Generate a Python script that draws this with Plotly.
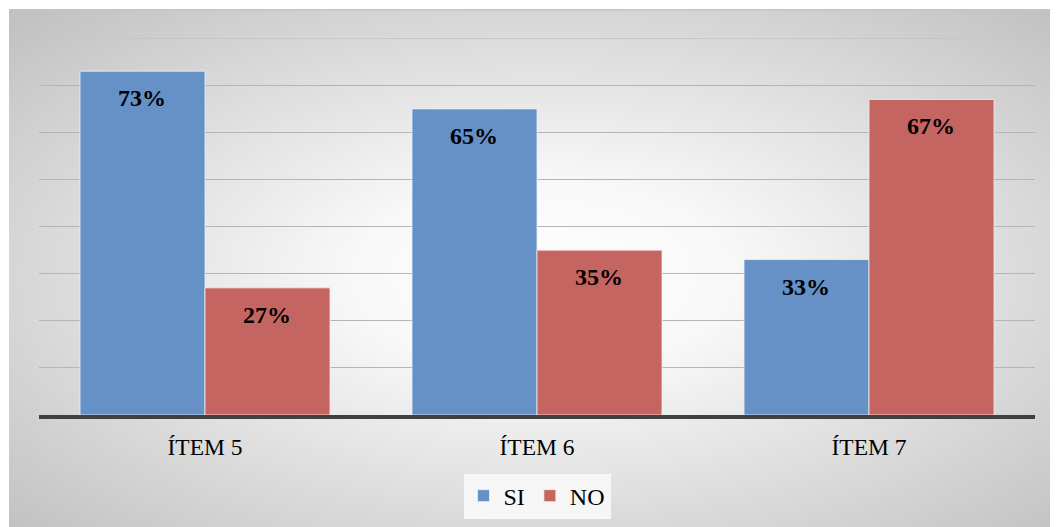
import base64
import plotly.graph_objects as go

categories = ["ÍTEM 5", "ÍTEM 6", "ÍTEM 7"]
si_values = [73, 65, 33]
no_values = [27, 35, 67]
series_names = ["SI", "NO"]
grid_top = 0.8

W, H = 1058, 527
OFF = 8  # page body margin
L, R, T, B = 39 - OFF, 1035 - OFF, 38 - OFF, 415 - OFF
FONT = "Liberation Serif"

svg = (
    '<svg xmlns="http://www.w3.org/2000/svg" width="1049" height="518" '
    'viewBox="0 0 1049 518" preserveAspectRatio="none">'
    '<defs><radialGradient id="g" cx="50%" cy="50%" r="71%">'
    '<stop offset="0" stop-color="#ffffff"/>'
    '<stop offset="0.25" stop-color="#f8f8f8"/>'
    '<stop offset="1" stop-color="#bfbfbf"/>'
    '</radialGradient></defs>'
    '<rect x="0" y="0" width="1049" height="518" fill="url(#g)"/>'
    '<rect x="0" y="0" width="1049" height="1.5" fill="#c4c4c4"/>'
    '</svg>'
)
src = "data:image/svg+xml;base64," + base64.b64encode(svg.encode()).decode()

fig = go.Figure()
fig.add_trace(go.Bar(
    name=series_names[0], x=categories, y=[v / 100 for v in si_values],
    marker=dict(color="#6591C6", line=dict(color="rgba(235,240,250,0.8)", width=1)),
))
fig.add_trace(go.Bar(
    name=series_names[1], x=categories, y=[v / 100 for v in no_values],
    marker=dict(color="#C56562", line=dict(color="rgba(250,235,235,0.8)", width=1)),
))

for cat, s, n in zip(categories, si_values, no_values):
    for val, xs in ((s, -63), (n, 62)):
        fig.add_annotation(
            x=cat, y=val / 100, xref="x", yref="y", text=f"<b>{val}%</b>",
            showarrow=False, xshift=xs, yshift=-27, yanchor="middle",
            font=dict(family=FONT, size=24, color="#000000"),
        )

fig.add_shape(type="line", xref="paper", yref="y", x0=0, x1=1, y0=grid_top, y1=grid_top,
              line=dict(color="#c2c2c2", width=1), layer="below")

plot_w = R - L
plot_h = B - T
fig.add_layout_image(
    source=src, xref="paper", yref="paper",
    x=(1 - L) / plot_w, y=(B - 1) / plot_h,
    sizex=(W + 10) / plot_w, sizey=(H + 10) / plot_h,
    xanchor="left", yanchor="top", sizing="stretch", layer="below",
)

fig.update_layout(
    width=W, height=H,
    margin=dict(l=L, r=W - R, t=T, b=H - B, pad=0, autoexpand=False),
    paper_bgcolor="#ffffff",
    plot_bgcolor="rgba(0,0,0,0)",
    barmode="group", bargap=0.247, bargroupgap=0,
    font=dict(family=FONT, size=23, color="#000000"),
    showlegend=True,
    legend=dict(
        orientation="h", x=0.5, xanchor="center", y=-0.215, yanchor="middle",
        bgcolor="rgba(248,248,248,0.9)", font=dict(family=FONT, size=24, color="#000000"),
        itemwidth=30, tracegroupgap=0,
    ),
    xaxis=dict(
        showline=True, linecolor="#404040", linewidth=4, ticks="",
        tickfont=dict(family=FONT, size=23.5, color="#000000"),
        ticklabelstandoff=8, showgrid=False,
    ),
    yaxis=dict(
        range=[0, 0.8005], dtick=0.1, showticklabels=False, ticks="",
        showgrid=True, gridcolor="#b5b5b5", gridwidth=1, zeroline=False,
        showline=False,
    ),
)

fig.write_html("out.html")
